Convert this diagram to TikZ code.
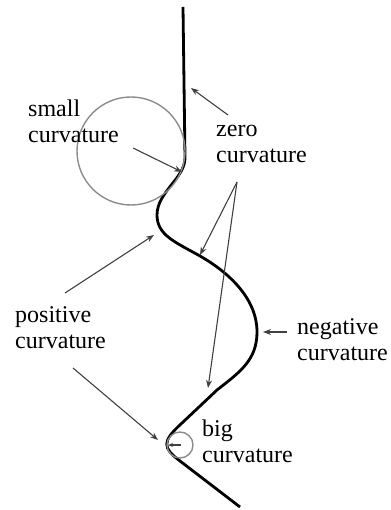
\documentclass[tikz,border=0pt]{standalone}
\usepackage{fontspec}
\setmainfont{Liberation Serif}
\usetikzlibrary{arrows.meta}
\begin{document}
\begin{tikzpicture}[x=1pt,y=-1pt,
  lbl/.style={anchor=base west,inner sep=0pt,align=left,font=\fontsize{24}{26}\selectfont},
  ptr/.style={draw=black!75,line width=1.1pt,-{Stealth[length=8pt,width=6pt]}},
  osc/.style={draw=black!45,line width=1.4pt},
  curve/.style={draw=black,line width=2.8pt}]
\useasboundingbox (0,0) rectangle (390,510);
% main curve
\draw[curve] (183,7) -- (185,158)
  .. controls (185,178) and (157,192) .. (157,215)
  .. controls (157,235) and (175,242) .. (200,256)
  .. controls (228,272) and (257,298) .. (257,332)
  .. controls (257,360) and (240,372) .. (217,390)
  -- (182,423)
  .. controls (161,442) and (163,448) .. (180,461)
  -- (240,507);
% osculating circles
\node[osc,circle,minimum size=108pt,inner sep=0pt] (bigc) at (131,151) {};
\node[osc,circle,minimum size=26pt,inner sep=0pt] (smc) at (180,445) {};
% labels (anchored at the baseline of the last line)
\node[lbl] (small) at (28,143) {small\\curvature};
\node[lbl] (zero) at (216,163) {zero\\curvature};
\node[lbl] (pos) at (15,348) {positive\\curvature};
\node[lbl] (neg) at (297,360) {negative\\curvature};
\node[lbl] (big) at (202,462) {big\\curvature};
% coordinates
\coordinate (z0) at (228,115); \coordinate (z1) at (191,88);
\coordinate (s0) at (133,148); \coordinate (s1) at (182,172);
\coordinate (zl) at (237,182); \coordinate (z2) at (200,255); \coordinate (z3) at (208,388);
\coordinate (p0) at (65,293); \coordinate (p1) at (154,235);
\coordinate (p2) at (73,368); \coordinate (p3) at (158,440);
\coordinate (n0) at (287,332); \coordinate (n1) at (263,332);
\coordinate (b0) at (181,445); \coordinate (b1) at (168,445);
% arrows
\draw[ptr] (z0) -- (z1);
\draw[ptr] (s0) -- (s1);
\draw[ptr] (zl) -- (z2);
\draw[ptr] (zl) -- (z3);
\draw[ptr] (p0) -- (p1);
\draw[ptr] (p2) -- (p3);
\draw[ptr] (n0) -- (n1);
\draw[ptr,-{Stealth[length=5pt,width=4pt]}] (b0) -- (b1);
\end{tikzpicture}
\end{document}
